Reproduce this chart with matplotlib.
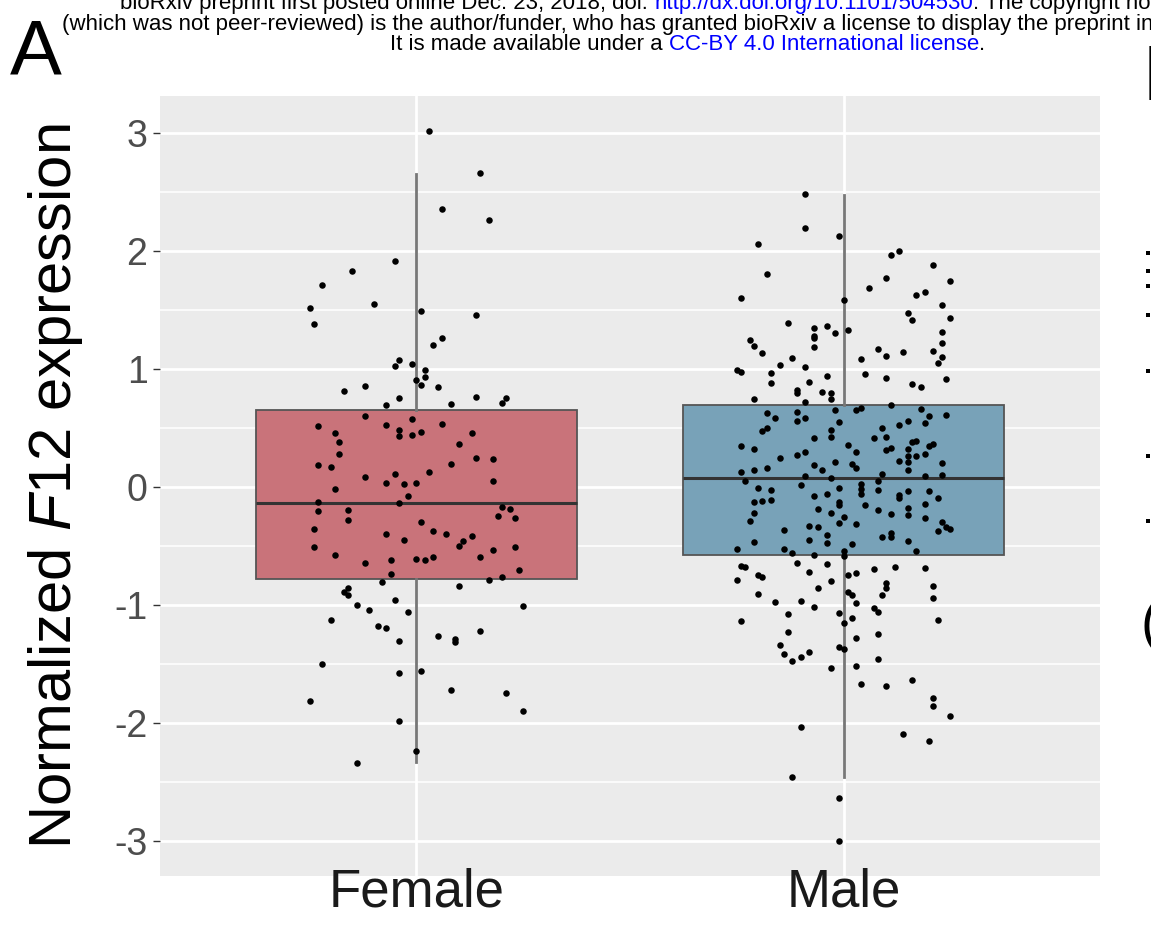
import matplotlib
matplotlib.use('Agg')
import matplotlib.pyplot as plt

plt.rcParams['font.family'] = ['Liberation Sans', 'DejaVu Sans']
plt.rcParams['mathtext.fontset'] = 'custom'
plt.rcParams['mathtext.rm'] = 'Liberation Sans'
plt.rcParams['mathtext.it'] = 'Liberation Sans:italic'

groups = ['Female', 'Male']
box_colors = ['#C9737A', '#78A2B8']

# box statistics per group: lower whisker, Q1, median, Q3, upper whisker
whis_lo = [-2.33, -2.46]
q1 = [-0.78, -0.58]
median = [-0.14, 0.07]
q3 = [0.65, 0.69]
whis_hi = [2.65, 2.47]

# jittered observations: horizontal offset from the group centre, expression value
female_dx = [0.03, 0.15, 0.06, 0.17, -0.05, -0.15, -0.22, -0.10, -0.25, -0.24,
             0.01, 0.14, 0.06, 0.04, -0.04, -0.05, -0.01, 0.02, 0.02, 0.00,
             0.01, 0.05, -0.12, -0.17, -0.04, 0.14, 0.21, 0.20, 0.08, -0.07,
             -0.12, -0.01, 0.06, -0.23, -0.07, -0.04, -0.04, -0.01, 0.01, -0.19,
             0.13, -0.18, 0.10, -0.18, 0.14, 0.18, -0.23, -0.20, 0.08, -0.12,
             -0.05, 0.03, -0.07, -0.03, 0.00, 0.18, -0.19, -0.02, -0.23, -0.04,
             0.20, -0.23, -0.16, 0.22, -0.16, 0.19, 0.23, 0.01, -0.24, 0.04,
             0.07, -0.07, 0.13, -0.03, 0.11, 0.10, -0.24, 0.23, 0.18, -0.19,
             -0.06, 0.00, 0.02, 0.04, 0.15, -0.12, -0.06, 0.24, 0.17, 0.20,
             -0.08, 0.10, -0.16, -0.17, -0.16, -0.05, -0.14, 0.25, -0.11, -0.02,
             -0.20, -0.09, -0.07, 0.15, 0.05, 0.09, 0.09, -0.04, -0.22, 0.01,
             -0.04, 0.08, 0.21, -0.25, 0.25, -0.04, 0.00, -0.14]
female_y = [3.01, 2.66, 2.35, 2.26, 1.91, 1.83, 1.71, 1.55, 1.51, 1.38,
            1.49, 1.45, 1.26, 1.20, 1.07, 1.02, 1.04, 0.99, 0.93, 0.90,
            0.86, 0.84, 0.85, 0.81, 0.75, 0.76, 0.75, 0.71, 0.70, 0.69,
            0.60, 0.57, 0.53, 0.51, 0.52, 0.48, 0.43, 0.44, 0.46, 0.45,
            0.45, 0.38, 0.36, 0.28, 0.24, 0.23, 0.18, 0.17, 0.19, 0.08,
            0.11, 0.12, 0.03, 0.02, 0.03, 0.05, -0.02, -0.08, -0.13, -0.14,
            -0.17, -0.21, -0.20, -0.19, -0.28, -0.25, -0.27, -0.30, -0.36, -0.38,
            -0.40, -0.40, -0.42, -0.45, -0.46, -0.50, -0.51, -0.51, -0.54, -0.58,
            -0.62, -0.61, -0.62, -0.60, -0.60, -0.65, -0.74, -0.71, -0.79, -0.77,
            -0.81, -0.84, -0.86, -0.89, -0.92, -0.96, -1.00, -1.01, -1.05, -1.06,
            -1.13, -1.18, -1.20, -1.22, -1.27, -1.29, -1.32, -1.31, -1.50, -1.56,
            -1.58, -1.72, -1.75, -1.82, -1.90, -1.99, -2.24, -2.34]

male_dx = [-0.09, -0.09, -0.01, -0.20, 0.13, 0.11, 0.21, -0.18, 0.10, 0.25,
           0.06, 0.19, 0.17, -0.24, 0.00, 0.23, 0.15, 0.16, 0.25, -0.13,
           -0.04, -0.07, 0.01, -0.02, -0.07, -0.07, 0.23, -0.22, -0.21, 0.23,
           -0.07, 0.08, -0.19, 0.14, 0.10, 0.21, 0.23, -0.12, 0.04, 0.22,
           -0.15, -0.09, -0.25, -0.24, -0.17, 0.05, -0.04, 0.10, 0.24, -0.17,
           -0.08, 0.16, 0.18, -0.11, -0.11, -0.05, -0.03,
           -0.21, -0.09, -0.03, 0.11, -0.02, 0.03, 0.04, 0.18, -0.18, -0.16,
           -0.11, -0.09, -0.11, -0.01, 0.24, 0.20, 0.15, 0.19, 0.13, 0.09,
           -0.19, -0.18, -0.03, -0.03, -0.07, 0.07, 0.10, 0.16, 0.17, 0.21,
           -0.24, -0.21, 0.01, 0.11, 0.10, 0.15, 0.20, 0.03, -0.09, -0.11,
           -0.15, 0.15, 0.17, 0.19, 0.13, 0.15, -0.02, 0.23, -0.07, 0.02,
           0.03, -0.18, -0.05, 0.15, -0.24, -0.21, 0.09, -0.09, 0.23, 0.19,
           -0.03, -0.23, 0.08, 0.04, -0.10, -0.01, -0.20, -0.17, 0.04, 0.08,
           0.04, -0.04, 0.15, 0.20, -0.07, 0.13, 0.13, 0.22, -0.21, -0.19,
           -0.17, -0.01, -0.01, 0.05, 0.15, 0.19, -0.06, 0.08, -0.21, -0.03,
           0.11, 0.15, 0.00, -0.22, 0.19, -0.01, 0.03, -0.08, -0.06, 0.23,
           0.24, 0.25, -0.14, 0.22, -0.04, 0.11, 0.11, 0.09, -0.21, -0.08,
           -0.04, 0.15, 0.02, -0.25, -0.14, -0.12, -0.07, 0.00, 0.00, 0.17,
           -0.24, -0.23, -0.11, -0.04, -0.08, 0.01, 0.03, 0.07, 0.12, 0.19,
           -0.25, -0.20, -0.19, -0.03, 0.10, 0.10, -0.06, 0.21, -0.20, 0.01,
           0.02, 0.09, 0.21, -0.16, -0.10, 0.03, -0.07, 0.07, -0.13, -0.01,
           0.08,
           -0.24, 0.02, 0.00, 0.22, -0.13, 0.03, 0.08, -0.15, -0.01, 0.00,
           -0.14, -0.10, -0.08, -0.12, 0.08, -0.03, 0.03, 0.04, 0.10, 0.16,
           0.21, 0.21, 0.25, -0.10, 0.14, 0.20, -0.12, -0.01, -0.01]
male_y = [2.48, 2.19, 2.12, 2.06, 2.00, 1.96, 1.88, 1.80, 1.77, 1.74,
          1.68, 1.65, 1.62, 1.60, 1.58, 1.54, 1.47, 1.41, 1.43, 1.39,
          1.36, 1.34, 1.33, 1.30, 1.28, 1.26, 1.31, 1.24, 1.19, 1.22,
          1.18, 1.17, 1.13, 1.14, 1.11, 1.15, 1.10, 1.09, 1.08, 1.05,
          1.03, 1.01, 0.99, 0.97, 0.96, 0.95, 0.94, 0.92, 0.91, 0.88,
          0.89, 0.87, 0.84, 0.82, 0.79, 0.80, 0.79,
          0.74, 0.72, 0.74, 0.69, 0.65, 0.65, 0.67, 0.66, 0.62, 0.58,
          0.63, 0.58, 0.56, 0.55, 0.61, 0.60, 0.56, 0.54, 0.52, 0.50,
          0.47, 0.50, 0.48, 0.42, 0.41, 0.41, 0.42, 0.38, 0.39, 0.36,
          0.34, 0.32, 0.35, 0.33, 0.31, 0.32, 0.34, 0.29, 0.29, 0.27,
          0.24, 0.26, 0.26, 0.28, 0.22, 0.21, 0.21, 0.20, 0.18, 0.19,
          0.16, 0.16, 0.14, 0.14, 0.12, 0.14, 0.11, 0.09, 0.10, 0.09,
          0.07, 0.05, 0.05, 0.02, 0.01, -0.01, -0.01, -0.03, -0.02, -0.03,
          -0.06, -0.06, -0.04, -0.04, -0.08, -0.07, -0.10, -0.10, -0.13, -0.12,
          -0.11, -0.13, -0.16, -0.16, -0.18, -0.15, -0.19, -0.20, -0.22, -0.22,
          -0.23, -0.24, -0.26, -0.29, -0.27, -0.31, -0.32, -0.33, -0.34, -0.30,
          -0.34, -0.36, -0.37, -0.38, -0.41, -0.39, -0.43, -0.43, -0.47, -0.45,
          -0.48, -0.46, -0.49, -0.53, -0.53, -0.56, -0.58, -0.55, -0.59, -0.55,
          -0.67, -0.68, -0.65, -0.66, -0.72, -0.75, -0.73, -0.70, -0.68, -0.69,
          -0.79, -0.75, -0.77, -0.80, -0.82, -0.86, -0.86, -0.84, -0.91, -0.89,
          -0.92, -0.92, -0.94, -0.98, -0.97, -0.99, -1.02, -1.03, -1.08, -1.07,
          -1.06,
          -1.14, -1.11, -1.16, -1.13, -1.23, -1.28, -1.25, -1.34, -1.36, -1.38,
          -1.42, -1.44, -1.40, -1.48, -1.46, -1.54, -1.52, -1.67, -1.69, -1.64,
          -1.79, -1.86, -1.94, -2.04, -2.10, -2.16, -2.46, -2.64, -3.00]

y_ticks = [-3, -2, -1, 0, 1, 2, 3]

fig = plt.figure(figsize=(11.51, 9.31), dpi=100)
ax = fig.add_axes([160 / 1151, 1 - 876 / 931, 940 / 1151, 780 / 931])
ax.set_facecolor('#EBEBEB')

# ggplot-like grid: white major and minor lines, no spines
ax.set_axisbelow(True)
for v in y_ticks:
    ax.axhline(v, color='white', lw=2.0, zorder=0)
for v in range(len(y_ticks) - 1):
    ax.axhline(y_ticks[v] + 0.5, color='white', lw=1.1, zorder=0)
for i in range(len(groups)):
    ax.axvline(i + 1, color='white', lw=2.0, zorder=0)
for s in ax.spines.values():
    s.set_visible(False)

stats = []
for i, g in enumerate(groups):
    stats.append({'label': g, 'whislo': whis_lo[i], 'q1': q1[i], 'med': median[i],
                  'q3': q3[i], 'whishi': whis_hi[i], 'fliers': []})
bp = ax.bxp(stats, positions=[1, 2], widths=0.75, patch_artist=True,
            showcaps=False, showfliers=False,
            boxprops=dict(edgecolor='#555555', linewidth=1.3),
            medianprops=dict(color='#333333', linewidth=2.2),
            whiskerprops=dict(color='#777777', linewidth=2.0), zorder=2)
for patch, c in zip(bp['boxes'], box_colors):
    patch.set_facecolor(c)

# jittered points on top of the boxes
ax.scatter([1 + d for d in female_dx], female_y, s=22, color='black', zorder=3, linewidths=0)
ax.scatter([2 + d for d in male_dx], male_y, s=22, color='black', zorder=3, linewidths=0)

ax.set_xlim(0.4, 2.6)
ax.set_ylim(-3.30, 3.31)
ax.set_yticks(y_ticks)
ax.set_yticklabels([str(v) for v in y_ticks])
ax.set_xticks([1, 2])
ax.set_xticklabels(groups)
ax.tick_params(axis='y', labelsize=27, labelcolor='#4D4D4D', color='#333333', length=5, width=1, pad=4)
ax.tick_params(axis='x', labelsize=38, labelcolor='#1A1A1A', length=0, pad=-6)
ax.set_ylabel('Normalized $\\mathit{F12}$ expression', fontsize=43, labelpad=21)

# panel letter and preprint banner
fs = 16
fig.text(10 / 1151, 1 - 75 / 931, 'A', fontsize=56, va='baseline', ha='left')


def banner_line(x_px, y_px, parts):
    # consecutive text runs on one baseline, each with its own colour
    x = x_px / fig.bbox.width
    for txt, col in parts:
        t = fig.text(x, 1 - y_px / 931, txt, fontsize=fs, ha='left', va='baseline', color=col)
        fig.canvas.draw()
        x = t.get_window_extent().x1 / fig.bbox.width


banner_line(120, 9, [('bioRxiv preprint first posted online Dec. 23, 2018; doi: ', 'black'),
                     ('http://dx.doi.org/10.1101/504530', '#0000FF'),
                     ('. The copyright holder for this preprint', 'black')])
banner_line(62, 30, [('(which was not peer-reviewed) is the author/funder, who has granted bioRxiv a license to display the preprint in perpetuity.', 'black')])
banner_line(390, 50, [('It is made available under a ', 'black'),
                      ('CC-BY 4.0 International license', '#0000FF'),
                      ('.', 'black')])

# edge of the neighbouring panel
fig.text(1143 / 1151, 1 - 100 / 931, 'B', fontsize=56, va='baseline', ha='left')
edge_dots = [253, 271, 286, 315, 371, 456, 521]
ax2 = fig.add_axes([0, 0, 1, 1], facecolor='none')
ax2.set_xlim(0, 1151)
ax2.set_ylim(931, 0)
ax2.axis('off')
ax2.scatter([1148] * len(edge_dots), edge_dots, s=10, color='black', marker='s', linewidths=0)
fig.text(1140 / 1151, 1 - 640 / 931, '(', fontsize=40, va='baseline', ha='left')

fig.savefig('out.png', dpi=100)
